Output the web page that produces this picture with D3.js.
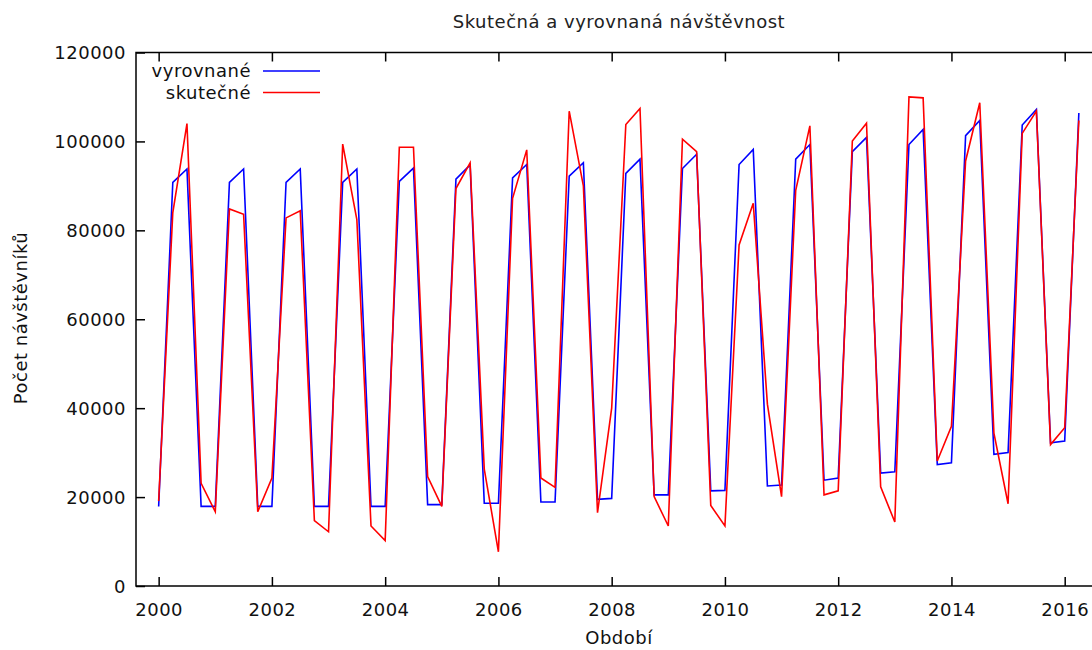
<!DOCTYPE html>
<html>
<head>
<meta charset="utf-8">
<script src="https://cdn.jsdelivr.net/npm/d3@7"></script>
<style>
  html, body { margin: 0; padding: 0; background: #fff; }
  svg { display: block; font-family: "DejaVu Sans", Verdana, sans-serif; letter-spacing: 0.5px; }
</style>
</head>
<body>
<svg id="chart" width="1092" height="650"></svg>
<script>
// Quarterly periods: 2000 Q1 .. 2016 Q2 (year + (quarter-1)/4)
const startYear = 2000;
const quarterCount = 66;

// Fitted (smoothed) visitor counts
const vyrovnane = [
  17900, 90800, 93800, 17900,
  17900, 90800, 93800, 17900,
  17900, 90800, 93800, 17900,
  17900, 90800, 93800, 17900,
  17900, 91000, 94000, 18300,
  18300, 91500, 94700, 18600,
  18600, 91800, 94800, 18900,
  18900, 92200, 95200, 19500,
  19700, 92800, 96000, 20500,
  20500, 93900, 97100, 21400,
  21500, 94800, 98200, 22500,
  22700, 96000, 99300, 23800,
  24300, 97700, 100900, 25400,
  25700, 99300, 102700, 27300,
  27700, 101300, 104700, 29600,
  30000, 103700, 107200, 32200,
  32600, 106400
];

// Actual visitor counts
const skutecne = [
  19100, 84000, 104000, 23100,
  16700, 84800, 83600, 16700,
  24300, 82800, 84400, 14700,
  12200, 99400, 82400, 13500,
  10200, 98700, 98700, 24600,
  17900, 89400, 95200, 26300,
  7700, 87200, 98100, 24300,
  22200, 106800, 90000, 16500,
  40000, 103800, 107400, 20100,
  13500, 100500, 97700, 18100,
  13500, 76700, 86100, 40900,
  20100, 89000, 103500, 20500,
  21400, 100100, 104100, 22300,
  14400, 110000, 109800, 28100,
  35900, 95600, 108700, 34400,
  18500, 101800, 106800, 31800,
  35600, 104700
];

const xTicks = [2000, 2002, 2004, 2006, 2008, 2010, 2012, 2014, 2016];
const yTicks = [0, 20000, 40000, 60000, 80000, 100000, 120000];

const seriesNames = ["vyrovnané", "skutečné"];
const seriesColors = ["#0000ff", "#ff0000"];

const periods = d3.range(quarterCount).map(i => startYear + i / 4);

const svg = d3.select("#chart");

const plot = { left: 136, top: 52.5, right: 1110, bottom: 586 };

const x = d3.scaleLinear().domain([1999.6, 2016.8]).range([plot.left, plot.right]);
const y = d3.scaleLinear().domain([0, 120000]).range([plot.bottom, plot.top]);

const textColor = "#111";
const fontSize = 18;

// Title
svg.append("text")
  .attr("x", 619).attr("y", 28)
  .attr("text-anchor", "middle")
  .attr("font-size", fontSize)
  .attr("fill", "#222")
  .text("Skutečná a vyrovnaná návštěvnost");

// Axes with inward ticks, mirrored on the opposite sides
const tickLen = 9;
const axisBottom = d3.axisBottom(x).tickValues(xTicks).tickFormat(d3.format("d"))
  .tickSizeInner(-tickLen).tickSizeOuter(0).tickPadding(17);
const axisTop = d3.axisTop(x).tickValues(xTicks).tickFormat("")
  .tickSizeInner(-tickLen).tickSizeOuter(0);
const axisLeft = d3.axisLeft(y).tickValues(yTicks).tickFormat(d3.format("d"))
  .tickSizeInner(-tickLen).tickSizeOuter(0).tickPadding(10);

function styleAxis(g) {
  g.select(".domain").remove();
  g.selectAll(".tick line").attr("stroke", "#000").attr("stroke-width", 1.5);
  g.selectAll(".tick text")
    .attr("font-size", fontSize)
    .attr("font-family", "\"DejaVu Sans\", Verdana, sans-serif")
    .attr("fill", textColor);
}

svg.append("g").attr("transform", `translate(0,${plot.bottom})`).call(axisBottom).call(styleAxis);
svg.append("g").attr("transform", `translate(0,${plot.top})`).call(axisTop).call(styleAxis);
svg.append("g").attr("transform", `translate(${plot.left},0)`).call(axisLeft).call(styleAxis)
  .selectAll(".tick text").attr("dy", "0.36em");

// Frame
svg.append("rect")
  .attr("x", plot.left).attr("y", plot.top)
  .attr("width", plot.right - plot.left).attr("height", plot.bottom - plot.top)
  .attr("fill", "none").attr("stroke", "#000").attr("stroke-width", 1.5);

// Axis titles
svg.append("text")
  .attr("x", 619).attr("y", 644)
  .attr("text-anchor", "middle")
  .attr("font-size", fontSize).attr("fill", textColor)
  .text("Období");

svg.append("text")
  .attr("transform", "translate(27,318) rotate(-90)")
  .attr("text-anchor", "middle")
  .attr("font-size", fontSize).attr("fill", textColor)
  .text("Počet návštěvníků");

// Series lines
const line = d3.line().x((d, i) => x(periods[i])).y(d => y(d));
svg.append("clipPath").attr("id", "plotClip")
  .append("rect")
  .attr("x", plot.left).attr("y", plot.top)
  .attr("width", plot.right - plot.left).attr("height", plot.bottom - plot.top);

const seriesData = [vyrovnane, skutecne];
const linesG = svg.append("g").attr("clip-path", "url(#plotClip)");
seriesData.forEach((vals, k) => {
  linesG.append("path")
    .datum(vals)
    .attr("d", line)
    .attr("fill", "none")
    .attr("stroke", seriesColors[k])
    .attr("stroke-width", 1.6)
    .attr("stroke-linejoin", "miter");
});

// Legend
const legend = svg.append("g");
seriesNames.forEach((name, k) => {
  const ly = 71 + k * 21.5;
  legend.append("text")
    .attr("x", 251).attr("y", ly)
    .attr("dy", "0.36em")
    .attr("text-anchor", "end")
    .attr("font-size", fontSize).attr("fill", textColor)
    .text(name);
  legend.append("line")
    .attr("x1", 263).attr("x2", 320)
    .attr("y1", ly).attr("y2", ly)
    .attr("stroke", seriesColors[k]).attr("stroke-width", 1.6);
});
</script>
</body>
</html>
